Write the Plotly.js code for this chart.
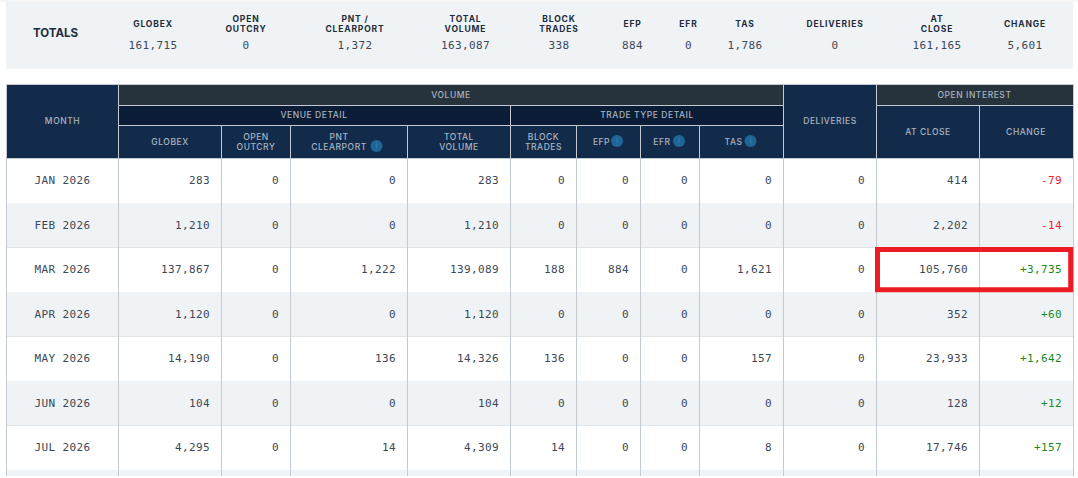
<!DOCTYPE html>
<html><head><meta charset="utf-8">
<script src="https://cdn.plot.ly/plotly-3.0.1.min.js"></script>
<style>
html,body{margin:0;padding:0;background:#fff;overflow:hidden}
#chart{width:1078px;height:478px}
</style></head><body><div id="chart"></div>
<script>
// ---- data ----
const months=["JAN 2026","FEB 2026","MAR 2026","APR 2026","MAY 2026","JUN 2026","JUL 2026"];
const globex=[283,1210,137867,1120,14190,104,4295];
const openOutcry=[0,0,0,0,0,0,0];
const pntClearport=[0,0,1222,0,136,0,14];
const totalVolume=[283,1210,139089,1120,14326,104,4309];
const blockTrades=[0,0,188,0,136,0,14];
const efp=[0,0,884,0,0,0,0];
const efr=[0,0,0,0,0,0,0];
const tas=[0,0,1621,0,157,0,8];
const deliveries=[0,0,0,0,0,0,0];
const atClose=[414,2202,105760,352,23933,128,17746];
const change=[-79,-14,3735,60,1642,12,157];
const totalLabels=["GLOBEX","OPEN<br>OUTCRY","PNT /<br>CLEARPORT","TOTAL<br>VOLUME","BLOCK<br>TRADES","EFP","EFR","TAS","DELIVERIES","AT<br>CLOSE","CHANGE"];
const totalValues=[161715,0,1372,163087,338,884,0,1786,0,161165,5601];
const columnLabels=["GLOBEX","OPEN<br>OUTCRY","PNT<br>CLEARPORT","TOTAL<br>VOLUME","BLOCK<br>TRADES","EFP","EFR","TAS"];
const groupLabels=["VOLUME","VENUE DETAIL","TRADE TYPE DETAIL","OPEN INTEREST"];
const sideLabels=["MONTH","DELIVERIES","AT CLOSE","CHANGE"];

// ---- layout geometry (page pixels) ----
const edges=[6.5,118.5,221.5,290.5,407.5,510.5,576.5,640.5,699.5,783.5,876.5,979.5,1073.5];
const rowTop=158.5,rowH=44.5,tableBottom=476;
const hY=[84.5,105.5,125.5,158.5];
const totalX=[153,246,355,465.5,559,632.5,688.5,745,835,937,1025];
const colShift=[0,0,-10,0,0,-7,-8,-8];   // room for info dot
const iconX=[376.5,617,679,750.5], iconY=[146,141,141,141];
const GRID="#c3cad1",NAVY="#132b4b",SLATE="#26323c",DEEP="#0a1c36",HTXT="#a9b5c1",BODY="#3c4856",DARK="#1d2c3e",STRIPE="#f0f3f6";
const HF="Inter, sans-serif",MF="'DejaVu Sans Mono', monospace";
const cols=[globex,openOutcry,pntClearport,totalVolume,blockTrades,efp,efr,tas,deliveries,atClose,change];
const fmt=v=>v.toLocaleString("en-US");
const sfmt=v=>(v>0?"+":"")+fmt(v);

const shapes=[];
const rect=(x0,y0,x1,y1,fill,lc,lw)=>shapes.push({type:"rect",layer:"below",x0,y0,x1,y1,fillcolor:fill,line:{color:lc||"rgba(0,0,0,0)",width:lc?(lw||1):0}});
rect(0,0.5,1078,1.5,"#eeeeee");
rect(6,2,1073,69,STRIPE);
// body rows
for(let r=0;r<8;r++){
  const y0=rowTop+r*rowH,y1=Math.min(y0+rowH,tableBottom);
  rect(edges[0],y0,edges[12],y1,r%2?STRIPE:"#ffffff");
  if(r<7){const ly=Math.floor(y1)+.5;shapes.push({type:"line",layer:"below",x0:edges[0],x1:edges[12],y0:ly,y1:ly,line:{color:GRID,width:1}});}
}
edges.forEach(x=>shapes.push({type:"line",layer:"below",x0:x,x1:x,y0:rowTop,y1:tableBottom,line:{color:GRID,width:1}}));
// header cells
rect(edges[0],hY[0],edges[1],hY[3],NAVY,GRID);
rect(edges[1],hY[0],edges[9],hY[1],SLATE,GRID);
rect(edges[1],hY[1],edges[5],hY[2],DEEP,GRID);
rect(edges[5],hY[1],edges[9],hY[2],DEEP,GRID);
for(let i=1;i<9;i++) rect(edges[i],hY[2],edges[i+1],hY[3],NAVY,GRID);
rect(edges[9],hY[0],edges[10],hY[3],NAVY,GRID);
rect(edges[10],hY[0],edges[12],hY[1],SLATE,GRID);
rect(edges[10],hY[1],edges[11],hY[3],NAVY,GRID);
rect(edges[11],hY[1],edges[12],hY[3],NAVY,GRID);
// highlight around the last two cells of the MAR row
shapes.push({type:"rect",layer:"above",x0:877.5,x1:1070.7,y0:249.5,y1:289.8,line:{color:"#ed1c24",width:5},fillcolor:"rgba(0,0,0,0)"});

// ---- text helpers ----
const traces=[];
function textTrace(items,family,size,color,weight,pos,cls){
  traces.push({type:"scatter",mode:"text",hoverinfo:"skip",showlegend:false,
    x:items.map(d=>d.x),y:items.map(d=>d.y),text:items.map(d=>d.t),textposition:pos||"middle center",
    textfont:{family,size,color:items.map(d=>d.c||color),weight:weight||400},cliponaxis:false});
}
const split=(label,x,y,gap)=>{const p=label.split("<br>");return p.map((t,i)=>({t,x,y:y+(i-(p.length-1)/2)*gap}));};
const center=i=>(edges[i]+edges[i+1])/2;

// totals band
textTrace(totalLabels.flatMap((l,i)=>split(l,totalX[i],24.7,10)),HF,8.5,DARK,700);
textTrace(totalValues.map((v,i)=>({t:fmt(v),x:totalX[i],y:46.7})),MF,11,BODY);
textTrace([{t:"TOTALS",x:55.5,y:34}],HF,11.5,DARK,700);
// header
const hdr=[];
columnLabels.forEach((l,i)=>hdr.push(...split(l,center(i+1)+colShift[i],143,10)));
hdr.push({t:groupLabels[0],x:451,y:96},{t:groupLabels[1],x:314,y:116},{t:groupLabels[2],x:647,y:116},{t:groupLabels[3],x:974.5,y:96});
hdr.push({t:sideLabels[0],x:62.5,y:122},{t:sideLabels[1],x:830,y:122},{t:sideLabels[2],x:928,y:133},{t:sideLabels[3],x:1026,y:133});
textTrace(hdr,HF,8.5,HTXT,500);
// info dots
traces.push({type:"scatter",mode:"markers+text",hoverinfo:"skip",showlegend:false,x:iconX,y:iconY,text:iconX.map(()=>"i"),textposition:"middle center",textfont:{size:7,color:"#3f86b5",family:HF},marker:{size:12,color:"#1f6698"}});
// body
textTrace(months.map((m,r)=>({t:m,x:62.5,y:rowTop+(r+.5)*rowH+.8})),MF,11,BODY);
cols.forEach((col,c)=>{
  const isChange=c===10;
  textTrace(col.map((v,r)=>({t:isChange?sfmt(v):fmt(v),x:edges[c+2]-11.5,y:rowTop+(r+.5)*rowH+.8,c:isChange?(v<0?"#ee2230":"#1c8a1c"):null})),MF,11,BODY,400,"middle left");
});

Plotly.newPlot("chart",traces,{
  width:1078,height:478,margin:{l:0,r:0,t:0,b:0},paper_bgcolor:"#fff",plot_bgcolor:"#fff",showlegend:false,
  xaxis:{range:[0,1078],visible:false,fixedrange:true},yaxis:{range:[478,0],visible:false,fixedrange:true},shapes
},{displayModeBar:false,staticPlot:true}).then(()=>{
  // Letter tracking by CSS: 1 = totals labels, 4 = header labels; all other text traces are the mono numbers.
  const st=document.createElement("style");
  st.textContent=".scatterlayer .trace text{letter-spacing:.38px}"+
    ".scatterlayer .trace:nth-child(1) text{letter-spacing:.85px}"+
    ".scatterlayer .trace:nth-child(3) text{letter-spacing:0}"+
    ".scatterlayer .trace:nth-child(4) text{letter-spacing:.55px}"+
    ".scatterlayer .trace:nth-child(5) text{letter-spacing:0}";
  document.head.appendChild(st);
});
</script></body></html>
